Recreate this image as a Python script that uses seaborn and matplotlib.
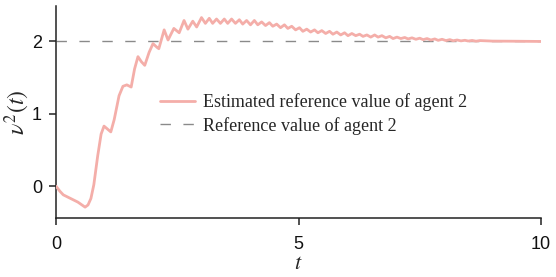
import numpy as np
import pandas as pd
import matplotlib
matplotlib.use("Agg")
import matplotlib.pyplot as plt
import seaborn as sns

# ---- data ----
t_est = [0.00, 0.08, 0.15, 0.30, 0.45, 0.60, 0.66, 0.72, 0.78, 0.86, 0.93, 0.99,
         1.06, 1.13, 1.20, 1.30, 1.38, 1.46, 1.55, 1.62, 1.69, 1.76, 1.83, 1.92,
         2.00, 2.08, 2.12, 2.23, 2.31, 2.43, 2.54, 2.64, 2.72, 2.82, 2.90,
         3.00, 3.08, 3.16, 3.23, 3.31, 3.39, 3.47, 3.54, 3.62, 3.70, 3.78, 3.85,
         3.93, 4.01, 4.09, 4.16, 4.24, 4.32, 4.40, 4.47, 4.55, 4.63, 4.71, 4.78,
         4.86, 4.94, 5.02, 5.09, 5.17, 5.25, 5.33, 5.40, 5.48, 5.56, 5.64, 5.71,
         5.79, 5.87, 5.95, 6.02, 6.10, 6.18, 6.26, 6.33, 6.41, 6.49, 6.57, 6.64,
         6.72, 6.80, 6.88, 6.95, 7.03, 7.11, 7.19, 7.26, 7.34, 7.42, 7.50, 7.57,
         7.65, 7.73, 7.81, 7.88, 7.96, 8.04, 8.12, 8.19, 8.27, 8.35, 8.43, 8.50,
         8.58, 8.66, 8.74, 9.00, 9.50, 10.00]
v_est = [0.00, -0.07, -0.12, -0.17, -0.22, -0.29, -0.26, -0.17, 0.02, 0.42, 0.72, 0.83,
         0.79, 0.75, 0.92, 1.25, 1.38, 1.40, 1.37, 1.62, 1.79, 1.72, 1.67, 1.85,
         1.97, 1.92, 1.90, 2.16, 2.02, 2.18, 2.12, 2.29, 2.17, 2.28, 2.20,
         2.33, 2.25, 2.32, 2.25, 2.31, 2.25, 2.31, 2.25, 2.31, 2.25, 2.30, 2.24,
         2.29, 2.23, 2.29, 2.23, 2.27, 2.22, 2.26, 2.21, 2.24, 2.19, 2.23, 2.18,
         2.21, 2.16, 2.19, 2.14, 2.17, 2.13, 2.16, 2.12, 2.15, 2.11, 2.14, 2.10,
         2.13, 2.09, 2.12, 2.08, 2.11, 2.08, 2.10, 2.07, 2.09, 2.06, 2.09, 2.06,
         2.08, 2.05, 2.07, 2.04, 2.06, 2.04, 2.055, 2.035, 2.05, 2.03, 2.045, 2.025,
         2.04, 2.02, 2.035, 2.015, 2.03, 2.012, 2.025, 2.01, 2.02, 2.008, 2.016, 2.006,
         2.014, 2.004, 2.012, 2.005, 2.003, 2.00]
t_ref = [0.0, 10.0]
v_ref = [2.0, 2.0]
x_ticks = [0, 5, 10]
y_ticks = [0, 1, 2]
label_est = "Estimated reference value of agent 2"
label_ref = "Reference value of agent 2"

sns.set_theme(style="ticks")
plt.rcParams["font.family"] = ["Liberation Sans", "DejaVu Sans"]
plt.rcParams["mathtext.fontset"] = "stix"

fig = plt.figure(figsize=(5.56, 2.77), dpi=100)
ax = fig.add_axes([56 / 556, 59 / 277, 485 / 556, 212 / 277])

df_est = pd.DataFrame({"t": t_est, "v": v_est})
df_ref = pd.DataFrame({"t": t_ref, "v": v_ref})

sns.lineplot(data=df_est, x="t", y="v", ax=ax, color="#f4aea9", linewidth=2.0,
             label=label_est, zorder=3)
sns.lineplot(data=df_ref, x="t", y="v", ax=ax, color="#8a8a8a", linewidth=1.0,
             dashes=False, label=label_ref, zorder=2)
ax.lines[1].set_dashes([7.5, 9])

ax.set_xlim(0, 10)
ax.set_ylim(-0.44, 2.49)
ax.set_xticks(x_ticks)
ax.set_yticks(y_ticks)
ax.tick_params(axis="both", labelsize=13, length=5, width=1.1, color="#222222",
               labelcolor="#111111", direction="out")
ax.tick_params(axis="x", pad=8)
ax.tick_params(axis="y", pad=5)
for side in ["left", "bottom"]:
    ax.spines[side].set_linewidth(1.1)
    ax.spines[side].set_color("#222222")
sns.despine(ax=ax)

ax.set_xlabel(r"$t$", fontsize=16, labelpad=0)
ax.set_ylabel(r"$\nu^2(t)$", fontsize=17, labelpad=0)

leg = ax.legend(loc="center left", bbox_to_anchor=(0.181, 0.49), frameon=False,
                prop={"family": "Liberation Serif", "size": 13},
                handlelength=1.95, handletextpad=0.45, labelspacing=0.3)

fig.savefig("out.png", dpi=100)
